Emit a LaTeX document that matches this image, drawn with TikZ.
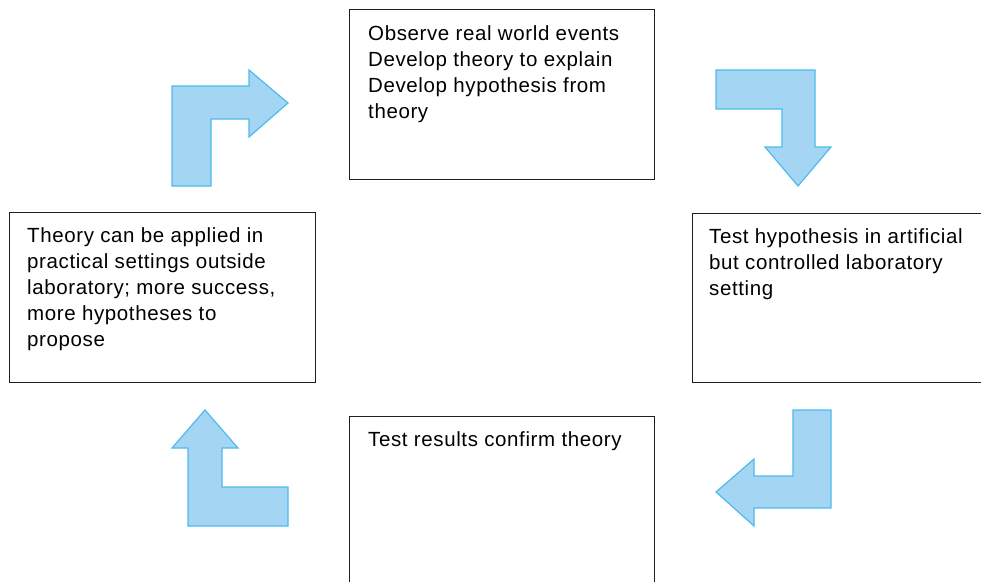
\documentclass[tikz,border=0pt]{standalone}
\usepackage{fontspec}
\setmainfont{Liberation Sans}[LetterSpace=3]
\usetikzlibrary{calc}

\definecolor{arrowfill}{RGB}{164,214,243}
\definecolor{arrowline}{RGB}{77,187,235}
\definecolor{boxline}{RGB}{30,30,30}

\tikzset{
  stagebox/.style={draw=boxline, line width=1pt, rectangle, inner sep=0pt,
    minimum width=306pt, minimum height=170pt, anchor=north west},
  stagetext/.style={anchor=north west, inner sep=0pt, align=left,
    font=\fontsize{20.5}{26}\selectfont, text=black},
  bendarrow/.style={fill=arrowfill, draw=arrowline, line width=1.2pt, line join=miter},
}

\begin{document}
\begin{tikzpicture}[x=1pt, y=-1pt]
  \useasboundingbox (0,0) rectangle (981,581);

  % the four stages of the cycle
  \node[stagebox, minimum width=305pt] (observe) at (349,9) {};
  \node[stagebox, minimum height=169pt] (lab) at (692,213) {};
  \node[stagebox, minimum width=305pt] (confirm) at (349,416) {};
  \node[stagebox] (apply) at (9,212) {};

  \node[stagetext] (observe-t) at ($(observe.north west)+(19,16)$)
    {Observe real world events\\Develop theory to explain\\Develop hypothesis from\\theory};
  \node[stagetext] (lab-t) at ($(lab.north west)+(17,15)$)
    {Test hypothesis in artificial\\but controlled laboratory\\setting};
  \node[stagetext] (confirm-t) at ($(confirm.north west)+(19,15)$)
    {Test results confirm theory};
  \node[stagetext] (apply-t) at ($(apply.north west)+(18,15)$)
    {Theory can be applied in\\practical settings outside\\laboratory; more success,\\more hypotheses to\\propose};

  % bent block arrows leading from one stage to the next
  \draw[bendarrow] (172,186) -- (172,86) -- (249,86) -- (249,70) -- (288,103)
    -- (249,137) -- (249,119) -- (211,119) -- (211,186) -- cycle;
  \draw[bendarrow] (716,70) -- (815,70) -- (815,147) -- (831,147) -- (798,186)
    -- (765,147) -- (782,147) -- (782,109) -- (716,109) -- cycle;
  \draw[bendarrow] (793,410) -- (831,410) -- (831,508) -- (754,508) -- (754,526)
    -- (716,492) -- (754,459) -- (754,476) -- (793,476) -- cycle;
  \draw[bendarrow] (205,410) -- (238,448) -- (222,448) -- (222,487) -- (288,487)
    -- (288,526) -- (188,526) -- (188,448) -- (172,448) -- cycle;
\end{tikzpicture}
\end{document}
